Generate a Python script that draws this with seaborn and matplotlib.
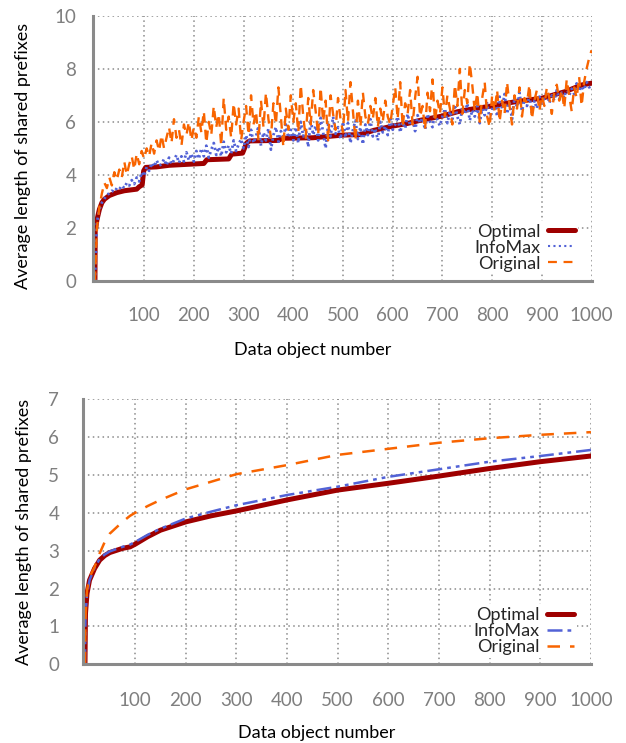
import numpy as np
import pandas as pd
import matplotlib
matplotlib.use("Agg")
import matplotlib.pyplot as plt
from matplotlib.lines import Line2D
import seaborn as sns


# DATA

# top panel: every 5th data object (first one is object 1)
objects = np.r_[1, np.arange(5, 1001, 5)]

infomax_top = [
    0.0, 2.2, 2.7, 2.95, 3.1, 3.25, 3.3, 3.4, 3.35, 3.5, 3.45, 3.6, 3.5, 3.7, 3.6, 3.8, 3.65, 3.9, 3.75, 4.1, 3.95,
    4.3, 4.15, 4.45, 4.3, 4.55, 4.35, 4.4, 4.6, 4.35, 4.65, 4.4, 4.55, 4.75, 4.45, 4.7, 4.5, 4.85, 4.55, 4.8, 4.5,
    4.9, 4.6, 5.0, 4.7, 5.1, 4.65, 4.95, 5.2, 4.75, 5.05, 4.7, 5.25, 4.85, 5.1, 4.8, 5.3, 4.9, 5.15, 5.35, 5.0,
    5.5, 5.05, 5.7, 5.2, 5.45, 5.85, 5.1, 5.6, 5.3, 5.75, 4.95, 5.5, 5.8, 5.25, 5.65, 5.35, 5.9, 5.4, 5.7, 5.3,
    5.8, 5.2, 6.0, 5.45, 5.75, 5.05, 6.1, 5.5, 5.85, 5.3, 6.15, 5.6, 5.0, 5.9, 5.45, 6.2, 5.55, 5.8, 5.35, 6.0,
    5.4, 5.95, 5.2, 5.7, 6.05, 5.35, 5.8, 5.15, 5.9, 5.5, 6.1, 5.45, 5.75, 5.3, 6.0, 5.6, 5.85, 5.5, 6.1, 5.7,
    5.9, 6.2, 5.6, 6.0, 5.75, 6.3, 5.85, 6.1, 5.65, 6.25, 5.95, 6.15, 5.7, 6.3, 6.0, 5.8, 6.35, 6.05, 5.85, 6.2,
    6.5, 5.95, 6.4, 6.1, 6.65, 6.2, 5.9, 6.55, 6.3, 6.7, 6.05, 6.45, 6.2, 6.6, 5.95, 6.5, 6.25, 6.7, 6.1, 6.45,
    6.8, 6.2, 6.95, 6.5, 7.05, 6.3, 6.75, 6.1, 6.9, 6.55, 7.1, 6.4, 6.85, 6.6, 7.0, 6.35, 6.8, 6.5, 6.95, 6.7,
    6.9, 7.15, 6.7, 7.0, 6.8, 7.2, 6.85, 7.1, 6.9, 7.3, 7.0, 7.25, 7.05, 7.45, 7.15, 7.35, 7.2, 7.5, 7.3, 7.35,
]

original_top = [
    0.0, 2.0, 2.8, 3.3, 3.7, 3.5, 3.9, 3.6, 4.1, 3.8, 4.2, 3.9, 4.5, 4.0, 4.4, 4.7, 4.2, 4.8, 4.4, 4.9, 4.6,
    5.0, 4.7, 5.2, 4.8, 5.3, 4.9, 5.5, 5.0, 5.4, 5.8, 5.2, 6.1, 5.4, 5.7, 5.1, 5.9, 5.5, 6.0, 5.3, 5.8,
    5.4, 6.2, 5.6, 6.4, 5.2, 6.0, 5.5, 6.6, 5.8, 6.3, 5.1, 6.9, 5.7, 6.2, 5.4, 6.7, 5.9, 6.5, 5.3, 6.0,
    6.6, 5.5, 7.0, 5.9, 6.4, 5.3, 6.8, 5.8, 7.1, 6.1, 5.4, 6.7, 5.9, 7.3, 6.2, 5.05, 6.5, 5.7, 7.0, 6.0,
    6.7, 5.6, 7.4, 6.2, 5.4, 6.9, 5.9, 7.2, 6.4, 5.5, 7.3, 6.0, 6.8, 5.3, 7.0, 6.3, 5.7, 6.9, 6.1, 5.6,
    7.2, 6.0, 7.5, 6.4, 5.3, 6.8, 5.8, 7.1, 6.2, 5.9, 6.6, 6.1, 6.9, 5.8, 6.5, 6.0, 6.8, 6.2, 5.9, 6.6,
    7.3, 6.1, 7.5, 5.8, 6.7, 6.3, 7.2, 5.9, 6.9, 7.7, 6.2, 6.6, 5.7, 7.1, 6.4, 7.6, 6.0, 6.8, 6.3, 7.3,
    6.2, 7.0, 6.5, 5.9, 7.4, 6.6, 8.0, 6.3, 7.2, 6.7, 8.2, 7.4, 6.4, 7.1, 6.0, 6.9, 7.5, 6.2, 5.8, 7.0,
    6.4, 7.2, 6.0, 6.8, 6.3, 7.5, 6.6, 5.9, 7.0, 6.5, 7.3, 6.2, 6.9, 6.7, 7.4, 6.1, 6.8, 7.2, 6.4, 7.0,
    6.6, 7.3, 6.9, 6.3, 7.1, 7.4, 6.8, 7.2, 6.5, 7.6, 7.0, 6.4, 7.3, 6.9, 7.7, 6.6, 7.5, 8.0, 8.4, 8.7,
]

# optimal ordering is a staircase, kept as its corner points
optimal_top_x = [1, 1.5, 3, 5, 10, 15, 20, 30, 45, 60, 85, 90, 96, 99, 103, 125, 150, 190, 220, 226,
                 270, 276, 298, 306, 312, 370, 378, 440, 470, 500, 535, 562, 600, 630, 656, 700, 730,
                 756, 800, 847, 900, 947, 980, 1000]
optimal_top_y = [0.0, 1.9, 2.05, 2.3, 2.7, 2.95, 3.08, 3.22, 3.33, 3.4, 3.46, 3.55, 3.62, 4.15, 4.28,
                 4.3, 4.36, 4.4, 4.43, 4.57, 4.6, 4.78, 4.82, 5.2, 5.28, 5.3, 5.38, 5.4, 5.45, 5.5,
                 5.52, 5.68, 5.84, 5.94, 6.06, 6.22, 6.38, 6.47, 6.6, 6.76, 6.89, 7.14, 7.39, 7.46]

# bottom panel: smooth curves
objects_b = [1, 2, 5, 10, 20, 30, 40, 50, 75, 90, 100, 125, 150, 200, 250, 300, 400, 500, 600, 700, 800, 900, 1000]
optimal_b = [0, 1.34, 1.87, 2.22, 2.53, 2.75, 2.87, 2.95, 3.06, 3.1, 3.17, 3.37, 3.54, 3.76, 3.92, 4.05,
             4.34, 4.6, 4.78, 4.97, 5.17, 5.35, 5.5]
infomax_b = [0, 1.3, 1.85, 2.22, 2.55, 2.78, 2.9, 2.98, 3.1, 3.16, 3.23, 3.42, 3.58, 3.85, 4.03, 4.2,
             4.47, 4.69, 4.95, 5.15, 5.35, 5.5, 5.66]
original_b = [0, 1.2, 1.95, 2.3, 2.57, 2.93, 3.23, 3.45, 3.76, 3.92, 4.0, 4.18, 4.34, 4.62, 4.82, 5.02,
              5.26, 5.53, 5.69, 5.85, 5.97, 6.06, 6.13]

labels = ["Optimal", "InfoMax", "Original"]


# STYLE

sns.set_theme(style="white")
plt.rcParams["font.family"] = ["Lato", "DejaVu Sans"]

RED = "#9e0000"
BLUE = "#5262d6"
ORANGE = "#f86400"
GREY = "#8a8a8a"

fig = plt.figure(figsize=(6.26, 7.43), dpi=100)
ax1 = fig.add_axes([0.1485, 0.622, 0.7965, 0.3567])
ax2 = fig.add_axes([0.1325, 0.106, 0.8115, 0.3567])


def style_axes(ax, ymax, ystep, xpad, ypad):
    ax.set_xlim(-3, 1000)
    ax.set_ylim(0, ymax)
    ax.set_xticks(np.arange(100, 1001, 100))
    ax.set_yticks(np.arange(0, ymax + 0.1, ystep))
    ax.grid(True, color=GREY, linestyle=(0, (1, 2.2)), linewidth=1.1)
    for side in ["top", "right"]:
        ax.spines[side].set_visible(False)
    for side in ["left", "bottom"]:
        ax.spines[side].set_color(GREY)
        ax.spines[side].set_linewidth(2.2)
    ax.tick_params(axis="both", direction="out", length=8, width=1.6, color=GREY,
                   labelcolor="#7f7f7f", labelsize=13.5)
    ax.tick_params(axis="x", pad=xpad)
    ax.tick_params(axis="y", pad=ypad)
    ax.set_axisbelow(True)


def add_legend(ax, handles):
    leg = ax.legend(handles, labels, loc="lower right", bbox_to_anchor=(0.99, -0.01),
                    markerfirst=False, fontsize=13, handlelength=1.5, handletextpad=0.4,
                    labelspacing=0.0, borderpad=0.15, frameon=True, fancybox=False)
    leg.get_frame().set_facecolor("white")
    leg.get_frame().set_edgecolor("none")
    leg.get_frame().set_alpha(1)


# TOP PANEL

sns.lineplot(x=optimal_top_x, y=optimal_top_y, ax=ax1, color=RED, linewidth=3.6,
             estimator=None, sort=False)
sns.lineplot(x=objects, y=infomax_top, ax=ax1, color=BLUE, linewidth=2.0,
             linestyle=(0, (0.8, 1.2)), estimator=None, sort=False)
sns.lineplot(x=objects, y=original_top, ax=ax1, color=ORANGE, linewidth=1.7,
             linestyle=(0, (4, 3)), estimator=None, sort=False)

style_axes(ax1, 10, 2, 11, 4)
ax1.set_xlabel("Data object number", fontsize=13, color="black")
ax1.set_ylabel("Average length of shared prefixes", fontsize=13, color="black")
ax1.xaxis.set_label_coords(0.44, -0.232)
ax1.yaxis.set_label_coords(-0.125, 0.47)

add_legend(ax1, [
    Line2D([], [], color=RED, linewidth=3.6),
    Line2D([], [], color=BLUE, linewidth=1.5, linestyle=(0, (1, 1.6))),
    Line2D([], [], color=ORANGE, linewidth=1.6, linestyle=(0, (4, 3))),
])


# BOTTOM PANEL

df_b = pd.DataFrame({"object": objects_b, "Optimal": optimal_b,
                     "InfoMax": infomax_b, "Original": original_b})

sns.lineplot(data=df_b, x="object", y="Optimal", ax=ax2, color=RED, linewidth=3.6,
             estimator=None, sort=False)
sns.lineplot(data=df_b, x="object", y="InfoMax", ax=ax2, color=BLUE, linewidth=1.8,
             linestyle=(0, (6, 2, 1.5, 2, 1.5, 2)), estimator=None, sort=False)
sns.lineplot(data=df_b, x="object", y="Original", ax=ax2, color=ORANGE, linewidth=1.8,
             linestyle=(0, (5, 4)), estimator=None, sort=False)

style_axes(ax2, 7, 1, 12, 9)
ax2.set_xlabel("Data object number", fontsize=13, color="black")
ax2.set_ylabel("Average length of shared prefixes", fontsize=13, color="black")
ax2.xaxis.set_label_coords(0.46, -0.23)
ax2.yaxis.set_label_coords(-0.10, 0.5)

add_legend(ax2, [
    Line2D([], [], color=RED, linewidth=3.6),
    Line2D([], [], color=BLUE, linewidth=1.8, linestyle=(0, (6, 2, 1.5, 2, 1.5, 2))),
    Line2D([], [], color=ORANGE, linewidth=1.8, linestyle=(0, (5, 4))),
])


# SAVE

plt.savefig("out.png", dpi=100)
plt.close()
